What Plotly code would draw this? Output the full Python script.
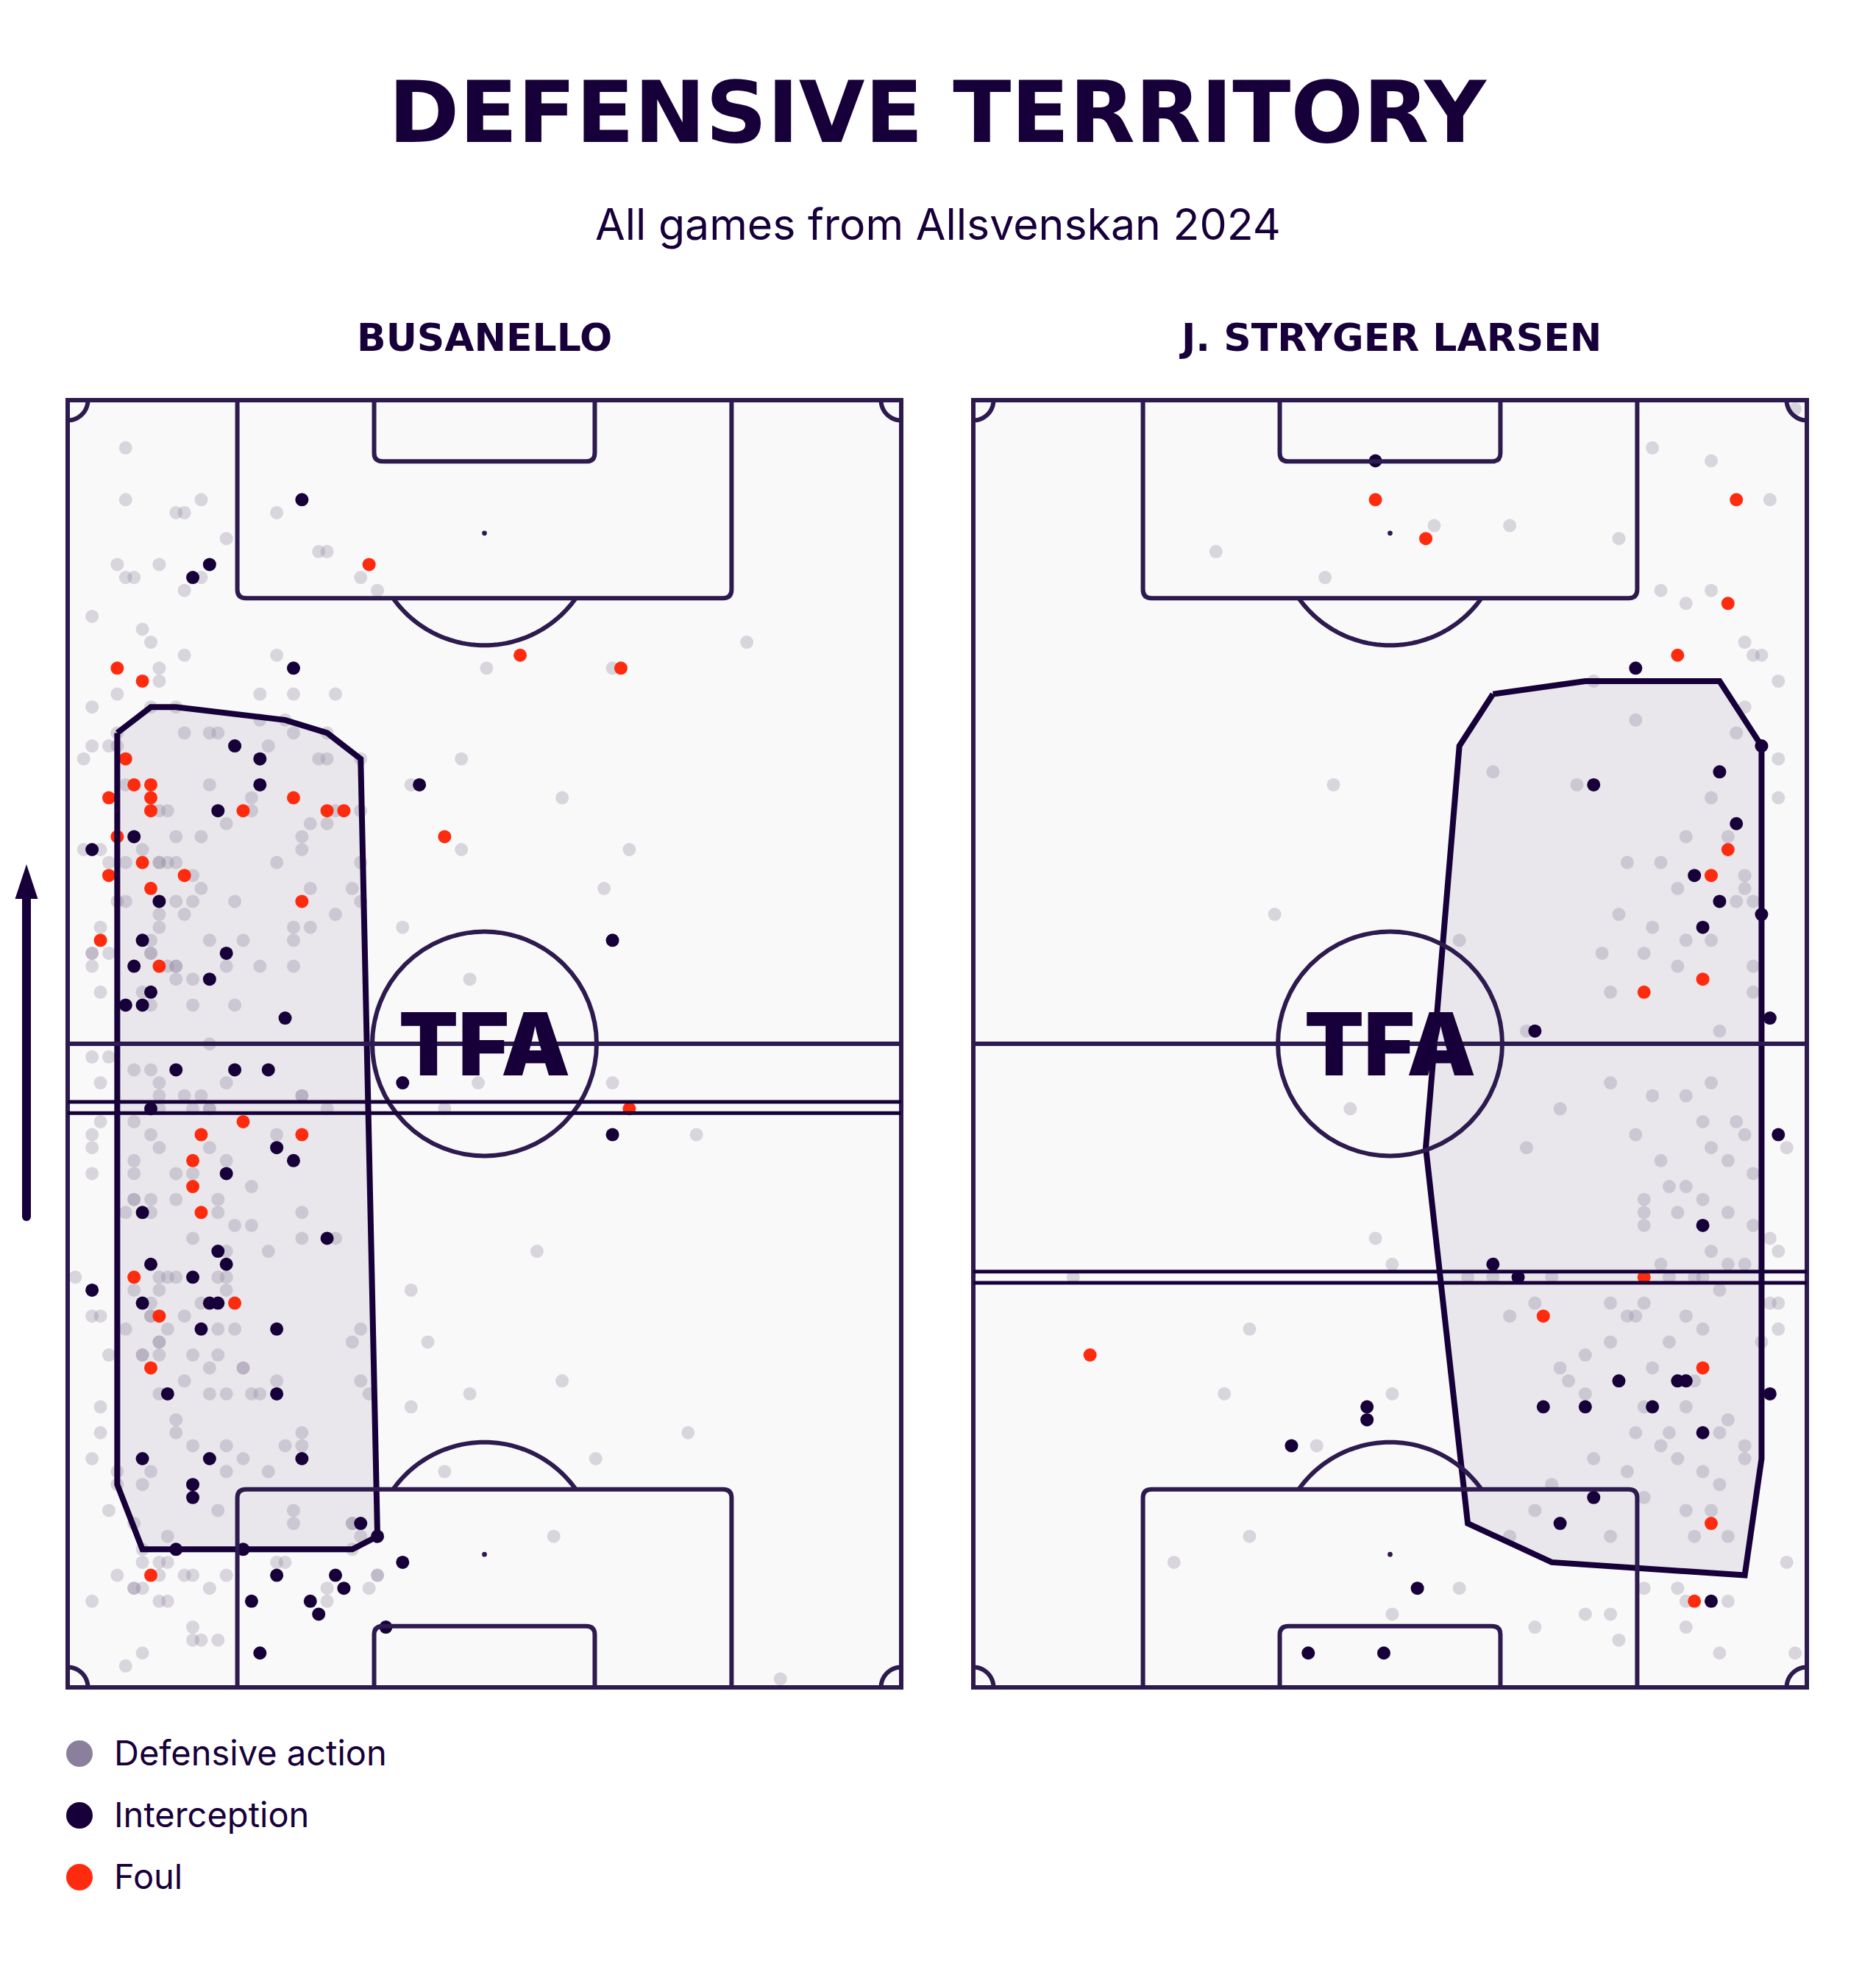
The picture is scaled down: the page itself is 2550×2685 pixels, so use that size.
import math
import plotly.graph_objects as go

# ---------------- DATA ----------------
# coordinates: w = across the pitch (0 = left touchline), l = from the attacked goal line (0 = top)
players = ["BUSANELLO", "J. STRYGER LARSEN"]
title_text = "DEFENSIVE TERRITORY"
subtitle_text = "All games from Allsvenskan 2024"
legend_labels = ["Defensive action", "Interception", "Foul"]

bus_defensive = [
    (7,4),(7,8),(16,8),(13,9),(14,9),(25,9),(19,11),(30,12),(31,12),(6,13),(11,13),(7,14),(8,14),(16,14),(35,14),
    (14,15),(37,15),(3,17),(9,18),(10,19),(14,20),(25,20),(11,21),(11,22),(6,23),(23,23),(27,23),(32,23),(3,24),
    (10,24),(13,24),(23,25),(26,25),(6,26),(14,26),(17,26),(18,26),(27,26),(31,26),(3,27),(5,27),(6,27),(24,27),
    (2,28),(30,28),(31,28),(35,28),(7,30),(17,30),(22,31),(11,32),(12,32),(22,32),(32,32),(35,32),(19,33),(29,33),(31,33),
    (13,34),(16,34),(28,34),(2,35),(4,35),(9,35),(28,35),(5,36),(7,36),(11,36),(11,36),(12,36),(13,36),(25,36),(35,36),
    (15,37),(16,38),(29,38),(34,38),(6,39),(7,39),(13,39),(15,39),(20,39),(35,39),(11,40),(14,40),(32,40),(4,41),(11,41),
    (27,41),(29,41),(10,42),(17,42),(21,42),(27,42),(3,43),(3,43),(5,43),(10,43),(10,43),(3,44),(12,44),(13,44),(13,44),
    (19,44),(23,44),(27,44),(13,45),(15,45),(4,46),(9,46),(10,47),(15,47),(20,47),(17,50),(3,51),(5,51),(8,52),(10,52),
    (4,53),(11,53),(19,53),(11,54),(14,54),(16,54),(28,54),(28,54),(11,55),(15,55),(17,55),(17,55),(31,55),(4,56),(8,56),
    (3,57),(10,57),(25,57),(3,58),(11,58),(17,58),(8,59),(19,59),(3,60),(8,60),(13,60),(15,60),(22,61),(8,62),(8,62),
    (10,62),(13,62),(18,62),(7,63),(10,63),(18,63),(28,63),(20,64),(22,64),(15,65),(28,65),(32,65),(19,66),(24,66),
    (1,68),(11,68),(12,68),(13,68),(18,68),(19,68),(8,69),(11,69),(19,69),(10,70),(16,70),(3,71),(4,71),(10,71),(10,71),
    (14,71),(7,72),(12,72),(18,72),(20,72),(35,72),(11,73),(11,73),(34,73),(5,74),(9,74),(9,74),(11,74),(15,74),(18,74),
    (17,75),(21,75),(21,75),(14,76),(25,76),(35,76),(11,77),(17,77),(19,77),(22,77),(23,77),(36,77),(4,78),(13,79),(4,80),
    (13,80),(28,80),(15,81),(19,81),(26,81),(28,81),(3,82),(21,82),(6,83),(10,83),(19,83),(24,83),(6,84),(9,84),(5,86),
    (18,86),(27,86),(8,87),(27,87),(34,87),(34,87),(12,88),(35,88),(9,89),(34,89),(9,90),(11,90),(12,90),(25,90),(26,90),
    (6,91),(11,91),(14,91),(15,91),(19,91),(37,91),(37,91),(8,92),(8,92),(9,92),(17,92),(31,92),(36,92),(3,93),(11,93),
    (12,93),(31,93),(15,95),(15,96),(16,96),(18,96),(9,97),(7,98),
    (50,21),(65,21),(81,19),(47,28),(41,30),(59,31),(47,35),(67,35),(64,38),(40,41),(48,45),
    (49,53),(65,53),(45,55),(75,57),(56,66),(41,69),(43,73),(59,76),(48,77),(41,78),(74,80),(63,82),(45,83),(58,88),(85,99),
]
bus_interception = [
    (28,8),(17,13),(15,14),(27,21),(20,27),(23,28),(23,30),(18,32),
    (8,34),(3,35),(11,39),(9,42),(19,43),(8,44),(17,45),(10,46),(7,47),(9,47),(26,48),(13,52),(20,52),(24,52),(10,55),
    (25,58),(27,59),(19,60),(9,63),(31,65),(18,66),
    (10,67),(19,67),(15,68),(3,69),(9,70),(17,70),(18,70),(16,72),(25,72),(12,77),(25,77),(9,82),(17,82),(28,82),(15,84),
    (15,85),(35,87),(37,88),(13,89),(21,89),(25,91),(32,91),(33,92),(22,93),(29,93),(30,94),(38,95),(23,97),
    (42,30),(65,42),(40,53),(65,57),(40,90),
]
bus_foul = [
    (36,13),(6,21),(9,22),(7,28),(8,30),(10,30),(5,31),(10,31),(10,32),(21,32),(27,31),(31,32),(33,32),
    (6,34),(9,36),(5,37),(14,37),(10,38),(28,39),(4,42),(11,44),(21,56),(16,57),(28,57),(15,59),(15,61),(16,63),
    (8,68),(20,70),(11,71),(10,75),(10,91),(54,20),(66,21),(45,34),(67,55),
]
bus_hull = [(6,26),(10,24),(13,24),(26,25),(31,26),(35,28),(37,88),(34,89),(9,89),(6,84)]
bus_avg_line = 54.9

lar_defensive = [
    (81,4),(88,5),(98,1),(95,8),(55,10),(64,10),(29,12),(42,14),(77,11),(82,15),(85,16),(88,15),(92,19),(93,20),(94,20),
    (74,22),(96,22),(92,24),(79,25),(91,26),(96,28),(62,29),(72,30),(43,30),(96,31),(88,31),(85,34),(90,34),(78,36),
    (82,36),(92,37),(36,40),(92,38),(84,38),(91,39),(93,39),(77,40),(81,41),(85,42),(88,42),(80,43),(75,43),(58,42),
    (93,44),(76,46),(84,44),(93,46),(66,49),(89,49),(45,55),(88,53),(76,53),(81,54),(85,54),(70,55),(87,56),(91,56),
    (79,57),(92,57),(97,58),(66,58),(88,58),(82,59),(90,59),(93,60),(83,61),(85,61),(80,62),(87,62),(90,63),(80,63),
    (84,63),(80,64),(93,64),(95,65),(88,66),(48,65),(96,66),(92,67),(50,67),(90,67),(82,67),(12,68),(59,68),(62,68),
    (69,68),(83,68),(86,68),(87,68),(89,69),(67,70),(76,70),(80,70),(96,70),(95,70),(64,71),(78,71),(79,71),(85,71),
    (33,72),(96,72),(87,72),(83,73),(76,73),(73,74),(94,73),(70,75),(81,75),(71,76),(30,77),(50,77),(86,76),(73,77),
    (80,78),(85,78),(90,79),(79,80),(83,80),(89,80),(41,81),(82,81),(92,81),(74,82),(84,82),(92,82),(87,83),(78,83),
    (89,84),(69,84),(80,85),(85,86),(67,86),(88,86),(33,88),(86,88),(90,88),(76,88),(64,88),(24,90),(97,90),(80,92),
    (84,92),(58,92),(85,93),(90,93),(73,94),(76,94),(50,94),(85,95),(67,95),(77,96),(89,97),(98,97),
]
lar_interception = [
    (48,5),(79,21),(94,27),(89,29),(74,30),(91,33),(86,37),(89,39),(94,40),(87,41),(95,48),(67,49),(96,57),(87,64),
    (62,67),(65,68),(77,76),(84,76),(85,76),(95,77),(68,78),(73,78),(81,78),(47,78),(47,79),(87,80),(38,81),(74,85),
    (70,87),(53,92),(88,93),(40,97),(49,97),
]
lar_foul = [
    (48,8),(54,11),(91,8),(90,16),(84,20),(90,35),(88,37),(87,45),(80,46),(80,68),(68,71),(14,74),(87,75),(88,87),(86,93),
]
lar_hull = [(62,23),(73,22),(89,22),(94,27),(94,82),(92,91),(69,90),(59,87),(54,58),(58,27)]
lar_avg_line = 68.0

# ---------------- STYLE / GEOMETRY ----------------
W, H = 2550, 2685
INK = "#17003a"
LINE = "#2d1a4e"
PITCH_BG = "#f9f9f9"
C_DEF = "rgba(139,128,156,0.30)"
C_DEF_LEG = "rgb(139,128,156)"
C_INT = "#17003a"
C_FOUL = "#ff2b0e"

PITCH_LEFT = [92, 1323]
PITCH_TOP, PITCH_BOT = 544, 2294
PITCH_WPX = 1133
PAD = 14
SX, SY = 11.41, 17.617      # px per data unit
OX, OY = 1.1, 5.6           # data origin offset (px) relative to pitch line

def px(x):
    return x / W

def py(y):
    return 1 - y / H

def mw(m):   # metres across -> data units
    return (OX + m * PITCH_WPX / 68.0) / SX

def ml(m):   # metres along -> data units
    return (OY + m * (PITCH_BOT - PITCH_TOP) / 105.0) / SY

xr = [(-PAD + OX) / SX, (PITCH_WPX + PAD + OX) / SX]
yr = [(PITCH_BOT + PAD - 538.4) / SY, (PITCH_TOP - PAD - 538.4) / SY]

fig = go.Figure()
shapes = []
annotations = []

def pitch_shapes(xref, yref, avg):
    s = []
    lw = 6
    ln = dict(color=LINE, width=lw)
    s.append(dict(type="rect", xref=xref, yref=yref, x0=mw(0), x1=mw(68), y0=ml(0), y1=ml(105),
                  fillcolor=PITCH_BG, line=dict(width=0), layer="below"))
    s.append(dict(type="rect", xref=xref, yref=yref, x0=mw(0), x1=mw(68), y0=ml(0), y1=ml(105),
                  line=ln, layer="above"))
    s.append(dict(type="line", xref=xref, yref=yref, x0=mw(0), x1=mw(68), y0=ml(52.5), y1=ml(52.5),
                  line=ln, layer="above"))
    R = 9.15
    s.append(dict(type="circle", xref=xref, yref=yref, x0=mw(34 - R), x1=mw(34 + R),
                  y0=ml(52.5 - R), y1=ml(52.5 + R), line=ln, layer="above"))
    r = 0.7
    for top in (True, False):
        f = (lambda v: v) if top else (lambda v: 105 - v)
        for (xa, xb, d) in ((13.84, 54.16, 16.15), (25.0, 43.0, 5.0)):
            p = (f"M {mw(xa)},{ml(f(0))} L {mw(xa)},{ml(f(d - r))} "
                 f"Q {mw(xa)},{ml(f(d))} {mw(xa + r)},{ml(f(d))} "
                 f"L {mw(xb - r)},{ml(f(d))} Q {mw(xb)},{ml(f(d))} {mw(xb)},{ml(f(d - r))} "
                 f"L {mw(xb)},{ml(f(0))}")
            s.append(dict(type="path", xref=xref, yref=yref, path=p, line=ln, layer="above"))
        spot = 10.85
        rs = 0.2
        s.append(dict(type="circle", xref=xref, yref=yref, x0=mw(34 - rs), x1=mw(34 + rs),
                      y0=ml(f(spot - rs)), y1=ml(f(spot + rs)), fillcolor=LINE, line=dict(width=0),
                      layer="above"))
        a0 = math.asin((16.15 - spot) / R)
        pts = []
        n = 48
        for i in range(n + 1):
            t = a0 + (math.pi - 2 * a0) * i / n
            pts.append((mw(34 + R * math.cos(t)), ml(f(spot + R * math.sin(t)))))
        p = "M " + " L ".join(f"{a},{b}" for a, b in pts)
        s.append(dict(type="path", xref=xref, yref=yref, path=p, line=ln, layer="above"))
    rc = 1.65
    for cx, cy, sx_, sy_ in ((0, 0, 1, 1), (68, 0, -1, 1), (0, 105, 1, -1), (68, 105, -1, -1)):
        pts = []
        n = 16
        for i in range(n + 1):
            t = (math.pi / 2) * i / n
            pts.append((mw(cx + sx_ * rc * math.cos(t)), ml(cy + sy_ * rc * math.sin(t))))
        p = "M " + " L ".join(f"{a},{b}" for a, b in pts)
        s.append(dict(type="path", xref=xref, yref=yref, path=p, line=ln, layer="above"))
    for off in (-0.43, 0.43):
        s.append(dict(type="line", xref=xref, yref=yref, x0=mw(0), x1=mw(68), y0=avg + off, y1=avg + off,
                      line=dict(color=INK, width=5), layer="above"))
    return s

datasets = [
    (bus_defensive, bus_interception, bus_foul, bus_hull, bus_avg_line),
    (lar_defensive, lar_interception, lar_foul, lar_hull, lar_avg_line),
]

for i, (d_def, d_int, d_foul, hull, avg) in enumerate(datasets):
    xa = "x" if i == 0 else "x2"
    ya = "y" if i == 0 else "y2"
    hx = [p[0] for p in hull] + [hull[0][0]]
    hy = [p[1] for p in hull] + [hull[0][1]]
    fig.add_trace(go.Scatter(x=hx, y=hy, mode="lines", fill="toself", fillcolor="rgba(23,0,58,0.07)",
                             line=dict(width=0), hoverinfo="skip", showlegend=False, xaxis=xa, yaxis=ya))
    for data, col in ((d_def, C_DEF), (d_int, C_INT), (d_foul, C_FOUL)):
        fig.add_trace(go.Scatter(x=[p[0] for p in data], y=[p[1] for p in data], mode="markers",
                                 marker=dict(size=18, color=col, line=dict(width=0)),
                                 cliponaxis=False, showlegend=False, xaxis=xa, yaxis=ya))
    fig.add_trace(go.Scatter(x=hx, y=hy, mode="lines", line=dict(color=INK, width=8),
                             hoverinfo="skip", showlegend=False, xaxis=xa, yaxis=ya))
    shapes += pitch_shapes(xa, ya, avg)
    left = PITCH_LEFT[i]
    cx = left + PITCH_WPX / 2
    annotations.append(dict(text=players[i], x=px(cx), y=py(459), xref="paper", yref="paper",
                            showarrow=False, xanchor="center", yanchor="middle",
                            font=dict(family="DejaVu Sans", size=52, color=INK, weight="bold")))
    annotations.append(dict(text="TFA", x=px(cx), y=py(1419), xref="paper", yref="paper",
                            showarrow=False, xanchor="center", yanchor="middle",
                            font=dict(family="Inter", size=118, color=INK, weight=900)))

# title / subtitle
annotations.append(dict(text=title_text, x=0.5, y=py(152), xref="paper", yref="paper", showarrow=False,
                        xanchor="center", yanchor="middle",
                        font=dict(family="DejaVu Sans", size=116, color=INK, weight="bold")))
annotations.append(dict(text=subtitle_text, x=0.5, y=py(304), xref="paper", yref="paper", showarrow=False,
                        xanchor="center", yanchor="middle",
                        font=dict(family="Inter", size=59, color=INK, weight=400)))

# legend
leg_cols = [C_DEF_LEG, C_INT, C_FOUL]
leg_y = [2384, 2468, 2552]
for lab, col, yy in zip(legend_labels, leg_cols, leg_y):
    shapes.append(dict(type="circle", xref="paper", yref="paper", x0=px(90), x1=px(126),
                       y0=py(yy + 18), y1=py(yy - 18), fillcolor=col, line=dict(width=0)))
    annotations.append(dict(text=lab, x=px(153), y=py(yy - 2), xref="paper", yref="paper", showarrow=False,
                            xanchor="left", yanchor="middle",
                            font=dict(family="Inter", size=47, color=INK)))

# direction arrow
shapes.append(dict(type="line", xref="paper", yref="paper", x0=px(36), x1=px(36), y0=py(1654), y1=py(1215),
                   line=dict(color=INK, width=12)))
shapes.append(dict(type="circle", xref="paper", yref="paper", x0=px(30), x1=px(42), y0=py(1660), y1=py(1648),
                   fillcolor=INK, line=dict(width=0)))
shapes.append(dict(type="path", xref="paper", yref="paper",
                   path=f"M {px(20.5)},{py(1222)} L {px(36)},{py(1175)} L {px(51.5)},{py(1222)} Z",
                   fillcolor=INK, line=dict(width=0)))

def axis_common():
    return dict(visible=False, showgrid=False, zeroline=False, fixedrange=True, autorange=False)

fig.update_layout(
    width=W, height=H, margin=dict(l=0, r=0, t=0, b=0),
    paper_bgcolor="white", plot_bgcolor="rgba(0,0,0,0)",
    showlegend=False,
    xaxis=dict(domain=[px(PITCH_LEFT[0] - PAD), px(PITCH_LEFT[0] + PITCH_WPX + PAD)], range=xr,
               anchor="y", **axis_common()),
    yaxis=dict(domain=[py(PITCH_BOT + PAD), py(PITCH_TOP - PAD)], range=yr, anchor="x", **axis_common()),
    xaxis2=dict(domain=[px(PITCH_LEFT[1] - PAD), px(PITCH_LEFT[1] + PITCH_WPX + PAD)], range=xr,
                anchor="y2", **axis_common()),
    yaxis2=dict(domain=[py(PITCH_BOT + PAD), py(PITCH_TOP - PAD)], range=yr, anchor="x2", **axis_common()),
    shapes=shapes,
    annotations=annotations,
)

fig.write_html("out.html", config={"displayModeBar": False},
               post_script="document.body.style.margin='0px';document.body.style.overflow='hidden';")
